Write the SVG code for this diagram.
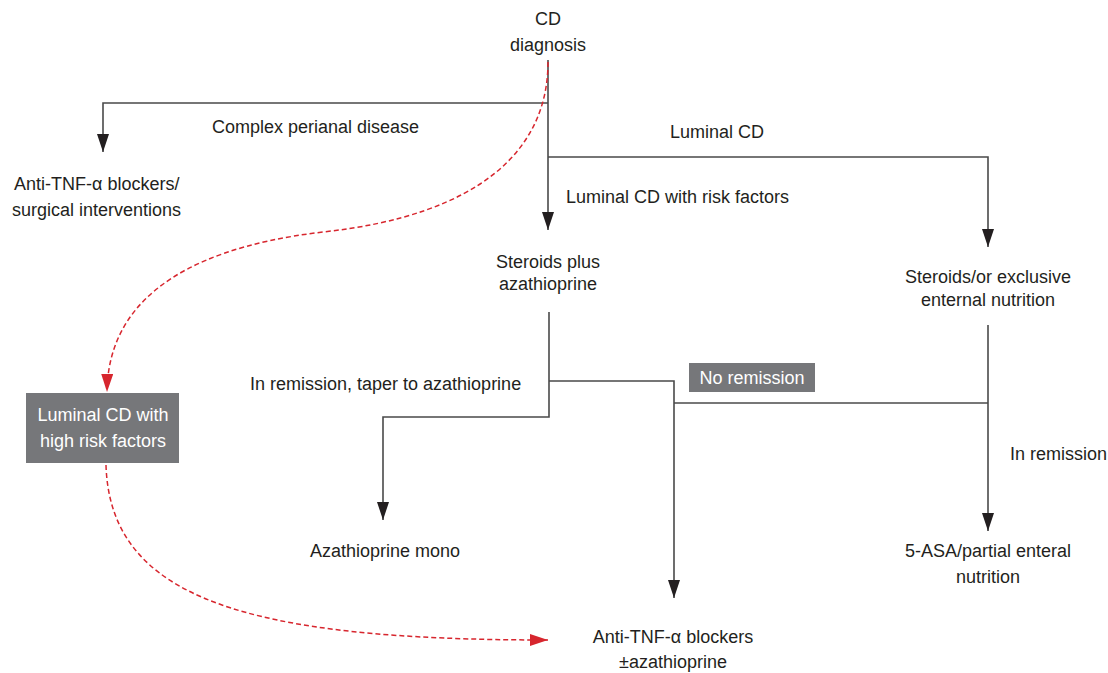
<svg xmlns="http://www.w3.org/2000/svg" width="1108" height="673" viewBox="0 0 1108 673">
<defs>
<marker id="ab" viewBox="0 0 18 12" refX="18" refY="6" markerWidth="18" markerHeight="12" markerUnits="userSpaceOnUse" orient="auto">
<path d="M0,0 L18,6 L0,12 Z" fill="#231f20"/>
</marker>
<marker id="ar" viewBox="0 0 18 12" refX="18" refY="6" markerWidth="18" markerHeight="12" markerUnits="userSpaceOnUse" orient="auto">
<path d="M0,0 L18,6 L0,12 Z" fill="#d7262e"/>
</marker>
</defs>
<style>
text{font-family:"Liberation Sans",Arial,sans-serif;font-size:18px;fill:#231f20}
.c{text-anchor:middle}
.w{fill:#ffffff}
.ln{fill:none;stroke:#4a4a4a;stroke-width:1.6}
.rd{fill:none;stroke:#d7262e;stroke-width:1.5;stroke-dasharray:5,3}
.box{fill:#76777a}
</style>
<rect width="1108" height="673" fill="#ffffff"/>
<g id="connectors">
<path class="ln" d="M548,60 V230" marker-end="url(#ab)"/>
<path class="ln" d="M548,103 H103 V152" marker-end="url(#ab)"/>
<path class="ln" d="M548,157 H988 V247" marker-end="url(#ab)"/>
<path class="ln" d="M549,312 V417 H383 V520" marker-end="url(#ab)"/>
<path class="ln" d="M549,381 H674 V598" marker-end="url(#ab)"/>
<path class="ln" d="M988,325 V531" marker-end="url(#ab)"/>
<path class="ln" d="M674,403 H988"/>
<path class="rd" d="M548,62 C548,150 480,215 323,232 C170,250 108,310 107,392" marker-end="url(#ar)"/>
<path class="rd" d="M106,465 C110,600 250,640 548,640" marker-end="url(#ar)"/>
</g>
<g id="n-diagnosis">
<text class="c" x="548" y="25">CD</text>
<text class="c" x="548" y="51">diagnosis</text>
</g>
<g id="l-perianal"><text x="212" y="133">Complex perianal disease</text></g>
<g id="l-luminal"><text x="670" y="138">Luminal CD</text></g>
<g id="l-risk"><text x="566" y="203">Luminal CD with risk factors</text></g>
<g id="n-antitnf1">
<text x="14" y="190">Anti-TNF-α blockers/</text>
<text x="12" y="216">surgical interventions</text>
</g>
<g id="n-steroids-aza">
<text class="c" x="548" y="268">Steroids plus</text>
<text class="c" x="548" y="290">azathioprine</text>
</g>
<g id="n-steroids-een">
<text class="c" x="988" y="283">Steroids/or exclusive</text>
<text class="c" x="988" y="306">enternal nutrition</text>
</g>
<g id="l-remission-taper"><text x="250" y="390">In remission, taper to azathioprine</text></g>
<g id="l-no-remission">
<rect class="box" x="689" y="363" width="126" height="29"/>
<text class="c w" x="752" y="384">No remission</text>
</g>
<g id="l-in-remission"><text x="1010" y="460">In remission</text></g>
<g id="n-high-risk">
<rect class="box" x="26" y="393" width="153" height="70"/>
<text class="c w" x="103" y="421">Luminal CD with</text>
<text class="c w" x="103" y="447">high risk factors</text>
</g>
<g id="n-aza-mono"><text x="310" y="557">Azathioprine mono</text></g>
<g id="n-5asa">
<text class="c" x="988" y="557">5-ASA/partial enteral</text>
<text class="c" x="988" y="583">nutrition</text>
</g>
<g id="n-antitnf2">
<text class="c" x="673" y="643">Anti-TNF-α blockers</text>
<text class="c" x="673" y="668">±azathioprine</text>
</g>
</svg>
